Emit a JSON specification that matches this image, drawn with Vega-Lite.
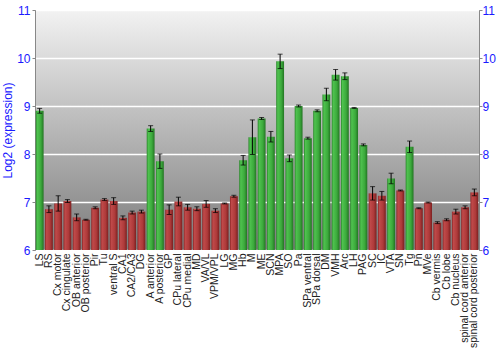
{
  "$schema": "https://vega.github.io/schema/vega-lite/v6.json",
  "width": 444,
  "height": 240,
  "autosize": "none",
  "padding": {"left": 35, "top": 10, "right": 21, "bottom": 100},
  "background": "white",
  "config": {
    "font": "Liberation Sans",
    "view": {
      "stroke": "#888888",
      "strokeWidth": 1,
      "fill": {"gradient": "linear", "x1": 0, "y1": 0, "x2": 0, "y2": 1,
        "stops": [{"offset": 0, "color": "#f2f2f2"}, {"offset": 1, "color": "#7c7c7c"}]}
    }
  },
  "data": {"values": [
    {"region": "LS", "v": 8.9, "e": 0.05, "g": "high"},
    {"region": "RS", "v": 6.85, "e": 0.07, "g": "low"},
    {"region": "Cx motor", "v": 6.97, "e": 0.16, "g": "low"},
    {"region": "Cx cingulate", "v": 7.02, "e": 0.03, "g": "low"},
    {"region": "OB anterior", "v": 6.68, "e": 0.07, "g": "low"},
    {"region": "OB posterior", "v": 6.63, "e": 0.01, "g": "low"},
    {"region": "Pir", "v": 6.88, "e": 0.02, "g": "low"},
    {"region": "Tu", "v": 7.05, "e": 0.02, "g": "low"},
    {"region": "ventral S", "v": 7.02, "e": 0.07, "g": "low"},
    {"region": "CA1", "v": 6.67, "e": 0.04, "g": "low"},
    {"region": "CA2/CA3", "v": 6.78, "e": 0.03, "g": "low"},
    {"region": "DG", "v": 6.8, "e": 0.03, "g": "low"},
    {"region": "A anterior", "v": 8.53, "e": 0.06, "g": "high"},
    {"region": "A posterior", "v": 7.85, "e": 0.15, "g": "high"},
    {"region": "GP", "v": 6.84, "e": 0.1, "g": "low"},
    {"region": "CPu lateral", "v": 7.01, "e": 0.09, "g": "low"},
    {"region": "CPu medial", "v": 6.89, "e": 0.06, "g": "low"},
    {"region": "MD", "v": 6.86, "e": 0.04, "g": "low"},
    {"region": "VA/VL", "v": 6.96, "e": 0.07, "g": "low"},
    {"region": "VPM/VPL", "v": 6.82, "e": 0.04, "g": "low"},
    {"region": "LG", "v": 6.97, "e": 0.01, "g": "low"},
    {"region": "MG", "v": 7.12, "e": 0.02, "g": "low"},
    {"region": "Hb", "v": 7.87, "e": 0.1, "g": "high"},
    {"region": "M", "v": 8.35, "e": 0.36, "g": "high"},
    {"region": "ME", "v": 8.74, "e": 0.02, "g": "high"},
    {"region": "SCN", "v": 8.36, "e": 0.11, "g": "high"},
    {"region": "MPA", "v": 9.93, "e": 0.15, "g": "high"},
    {"region": "SO", "v": 7.91, "e": 0.07, "g": "high"},
    {"region": "Pa", "v": 9.0, "e": 0.02, "g": "high"},
    {"region": "SPa ventral", "v": 8.33, "e": 0.02, "g": "high"},
    {"region": "SPa dorsal", "v": 8.9, "e": 0.02, "g": "high"},
    {"region": "DM", "v": 9.24, "e": 0.13, "g": "high"},
    {"region": "VMH", "v": 9.65, "e": 0.11, "g": "high"},
    {"region": "Arc", "v": 9.62, "e": 0.07, "g": "high"},
    {"region": "LH", "v": 8.96, "e": 0.01, "g": "high"},
    {"region": "PAG", "v": 8.19, "e": 0.02, "g": "high"},
    {"region": "SC", "v": 7.18, "e": 0.14, "g": "low"},
    {"region": "IC", "v": 7.13, "e": 0.09, "g": "low"},
    {"region": "VTA", "v": 7.49, "e": 0.11, "g": "high"},
    {"region": "SN", "v": 7.24, "e": 0.01, "g": "low"},
    {"region": "Tg", "v": 8.15, "e": 0.12, "g": "high"},
    {"region": "Pn", "v": 6.87, "e": 0.01, "g": "low"},
    {"region": "MVe", "v": 6.99, "e": 0.01, "g": "low"},
    {"region": "Cb vermis", "v": 6.57, "e": 0.02, "g": "low"},
    {"region": "Cb lobe", "v": 6.63, "e": 0.02, "g": "low"},
    {"region": "Cb nucleus", "v": 6.8, "e": 0.05, "g": "low"},
    {"region": "spinal cord anterior", "v": 6.89, "e": 0.03, "g": "low"},
    {"region": "spinal cord posterior", "v": 7.2, "e": 0.07, "g": "low"}
  ]},
  "encoding": {
    "x": {"field": "region", "type": "nominal",
      "sort": ["LS", "RS", "Cx motor", "Cx cingulate", "OB anterior", "OB posterior", "Pir", "Tu", "ventral S", "CA1", "CA2/CA3", "DG", "A anterior", "A posterior", "GP", "CPu lateral", "CPu medial", "MD", "VA/VL", "VPM/VPL", "LG", "MG", "Hb", "M", "ME", "SCN", "MPA", "SO", "Pa", "SPa ventral", "SPa dorsal", "DM", "VMH", "Arc", "LH", "PAG", "SC", "IC", "VTA", "SN", "Tg", "Pn", "MVe", "Cb vermis", "Cb lobe", "Cb nucleus", "spinal cord anterior", "spinal cord posterior"],
      "scale": {"paddingInner": 0.15, "paddingOuter": 0.08},
      "axis": {"title": null, "labelAngle": -90, "labelFont": "Liberation Sans", "labelFontSize": 10.5,
        "labelColor": "#222222", "ticks": false, "domain": false, "labelPadding": 3}
    }
  },
  "layer": [
    {
      "transform": [{"filter": "datum.g === 'high'"}],
      "mark": {"type": "bar",
        "fill": {"gradient": "linear", "x1": 0, "y1": 0, "x2": 1, "y2": 0,
          "stops": [{"offset": 0, "color": "#2a852a"}, {"offset": 0.2, "color": "#4fc24f"}, {"offset": 0.65, "color": "#3caa3c"}, {"offset": 1, "color": "#237523"}]}
      },
      "encoding": {
        "y": {"field": "v", "type": "quantitative",
          "scale": {"domain": [6, 11], "zero": false, "nice": false},
          "axis": {"orient": "left", "values": [6, 7, 8, 9, 10, 11], "title": "Log2 (expression)",
            "titleColor": "#1a1aff", "titleFont": "Liberation Sans", "titleFontSize": 12, "titleFontWeight": "normal",
            "titlePadding": 2, "labelColor": "#1a1aff", "labelFontSize": 12, "labelFont": "Liberation Sans",
            "labelPadding": 2, "tickSize": 3, "tickColor": "#888888", "domainColor": "#888888",
            "grid": true, "gridColor": "#ffffff", "gridWidth": 1.5}
        },
        "y2": {"datum": 6}
      }
    },
    {
      "transform": [{"filter": "datum.g === 'low'"}],
      "mark": {"type": "bar",
        "fill": {"gradient": "linear", "x1": 0, "y1": 0, "x2": 1, "y2": 0,
          "stops": [{"offset": 0, "color": "#8a2626"}, {"offset": 0.2, "color": "#c04a4a"}, {"offset": 0.65, "color": "#ae3a3a"}, {"offset": 1, "color": "#7a2020"}]}
      },
      "encoding": {
        "y": {"field": "v", "type": "quantitative", "axis": null},
        "y2": {"datum": 6}
      }
    },
    {
      "mark": {"type": "errorbar", "color": "#000000", "thickness": 1, "ticks": {"size": 5, "color": "#000000", "thickness": 1}},
      "encoding": {
        "y": {"field": "v", "type": "quantitative",
          "axis": {"orient": "right", "values": [6, 7, 8, 9, 10, 11], "title": null,
            "labelColor": "#1a1aff", "labelFontSize": 12, "labelFont": "Liberation Sans",
            "labelPadding": 0, "tickSize": 3, "tickColor": "#888888", "domainColor": "#888888", "grid": false}
        },
        "yError": {"field": "e"}
      }
    }
  ],
  "resolve": {"axis": {"y": "independent"}}
}
